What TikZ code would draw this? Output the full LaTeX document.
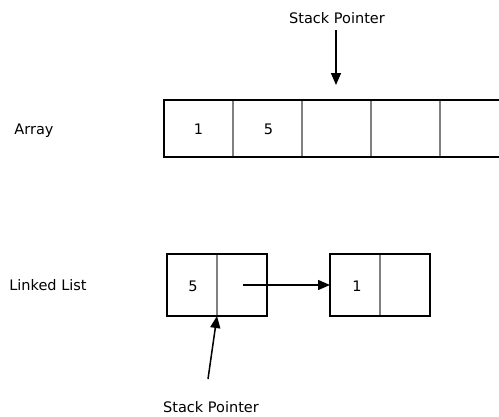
\documentclass[tikz,border=0pt]{standalone}
\usepackage{fontspec}
\setmainfont{DejaVu Sans}
\usetikzlibrary{arrows.meta}
\begin{document}
\begin{tikzpicture}[x=1pt,y=-1pt,
  every node/.style={font=\fontsize{14.5}{17}\selectfont},
  cell/.style={draw=gray,line width=1.2pt,minimum width=69pt,minimum height=57pt,inner sep=0pt,outer sep=0pt,anchor=north west},
  half/.style={draw=gray,line width=1.2pt,minimum width=50pt,minimum height=62pt,inner sep=0pt,outer sep=0pt,anchor=north west},
  frame/.style={draw=black,line width=1.5pt},
  ptr/.style={line width=1.5pt,-{Triangle[length=12pt,width=10pt]}},
  lbl/.style={text=black}]
\useasboundingbox (0,0) rectangle (499,416);
\clip (0,0) rectangle (499,416);
% Array
\node[cell] (a1) at (164,100) {};
\node[cell] (a2) at (233,100) {};
\node[cell] (a3) at (302,100) {};
\node[cell] (a4) at (371,100) {};
\node[cell] (a5) at (440,100) {};
\node[lbl] at ([xshift=0pt,yshift=-1pt]a1.center) {1};
\node[lbl] at ([xshift=1pt,yshift=-1pt]a2.center) {5};
\draw[frame] (a5.north east) -- (a1.north west) -- (a1.south west) -- (a5.south east);
\node[lbl] (arr) at (34,131) {Array};
\node[lbl] (sp1) at (337,18) {Stack Pointer};
\coordinate (sp1a) at (336,30);
\coordinate (sp1b) at (336,85);
\draw[ptr] (sp1a) -- (sp1b);
% Linked list
\node[lbl] (ll) at (48,285) {Linked List};
\node[half] (n1a) at (167,254) {};
\node[half] (n1b) at (217,254) {};
\node[half] (n2a) at (330,254) {};
\node[half] (n2b) at (380,254) {};
\draw[frame] (n1a.north west) rectangle (n1b.south east);
\draw[frame] (n2a.north west) rectangle (n2b.south east);
\node[lbl] at ([xshift=1pt,yshift=-1pt]n1a.center) {5};
\node[lbl] at ([xshift=2pt,yshift=-1pt]n2a.center) {1};
\coordinate (p1) at (243,285);
\draw[ptr] (p1) -- (n2a.west);
\node[lbl] (sp2) at (211,407) {Stack Pointer};
\coordinate (sp2a) at (208,379);
\draw[ptr] (sp2a) -- (n1a.south east);
\end{tikzpicture}
\end{document}
